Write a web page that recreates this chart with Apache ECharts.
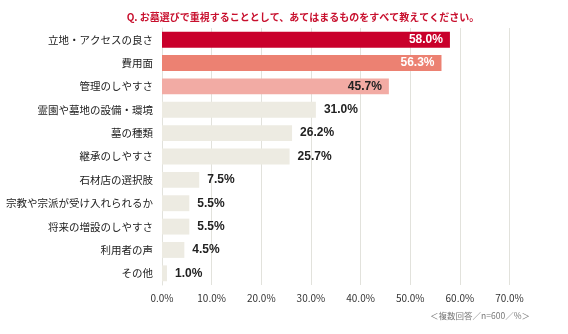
<!DOCTYPE html>
<html><head><meta charset="utf-8">
<script src="https://cdn.jsdelivr.net/npm/echarts@6/dist/echarts.min.js"></script>
<style>html,body{margin:0;padding:0;background:#fff}#c{width:568px;height:334px}</style>
</head><body><div id="c"></div>
<script>
var categories = ["立地・アクセスの良さ","費用面","管理のしやすさ","霊園や墓地の設備・環境","墓の種類","継承のしやすさ","石材店の選択肢","宗教や宗派が受け入れられるか","将来の増設のしやすさ","利用者の声","その他"];
var values = [58.0,56.3,45.7,31.0,26.2,25.7,7.5,5.5,5.5,4.5,1.0];
var barColors = ["#C9002B","#EC8172","#F2ABA4","#EDEBE2","#EDEBE2","#EDEBE2","#EDEBE2","#EDEBE2","#EDEBE2","#EDEBE2","#EDEBE2"];
var labelModes = ["inW","inW","inD","out","out","out","out","out","out","out","out"];
var xTicks = [0,10,20,30,40,50,60,70];
var font = '"Noto Sans CJK JP", "Noto Sans", sans-serif';
var data = values.map(function(v,i){
  var m = labelModes[i];
  var lab = m==="out" ? {position:"right", distance:8, color:"#222"} :
            {position:"insideRight", distance:7, color: m==="inW" ? "#fff" : "#222"};
  return {value:v, itemStyle:{color:barColors[i]}, label:lab};
});
var chart = echarts.init(document.getElementById('c'));
chart.setOption({
  animation:false,
  title:[{text:"Q. お墓選びで重視することとして、あてはまるものをすべて教えてください。", left:298, textAlign:"center", top:7,
    textStyle:{color:"#C8102E", fontSize:10, fontWeight:"bold", fontFamily:font}},
    {text:"＜複数回答／n=600／%＞", right:33, top:307, textStyle:{color:"#777", fontSize:8.5, fontWeight:"normal", fontFamily:font}}],
  grid:{left:162, right:58.5, top:28, bottom:49},
  xAxis:{type:"value", min:0, max:70, interval:10,
    axisLine:{show:false}, axisTick:{show:false},
    splitLine:{lineStyle:{color:"#E2E2DC", width:1}},
    axisLabel:{formatter:function(v){return v.toFixed(1)+"%";}, color:"#333", fontSize:10, margin:8, fontFamily:font}},
  yAxis:{type:"category", data:categories, inverse:true,
    axisLine:{show:true, lineStyle:{color:"#E2E2DC"}}, axisTick:{show:false},
    axisLabel:{color:"#222", fontSize:10.5, margin:9, fontFamily:font}},
  series:[{type:"bar", data:data, barWidth:"68%",
    label:{show:true, fontWeight:"bold", fontSize:12, fontFamily:'Arial, "Liberation Sans", sans-serif',
      formatter:function(p){return p.value.toFixed(1)+"%";}}}]
});
</script></body></html>
